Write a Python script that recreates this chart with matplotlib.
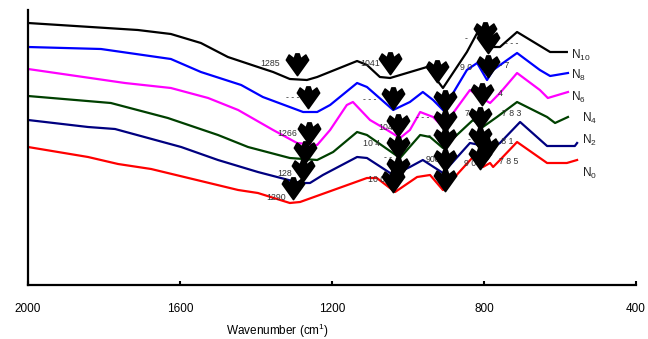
"""FTIR spectra of N0..N10 samples, stacked, with marked bands."""

import matplotlib

matplotlib.use("Agg")
import matplotlib.pyplot as plt
import numpy as np
from matplotlib.path import Path

plt.rcParams["font.family"] = ["Liberation Sans", "DejaVu Sans"]
plt.rcParams["mathtext.fontset"] = "custom"
plt.rcParams["mathtext.rm"] = "Liberation Sans"

# ---------------------------------------------------------------------------
# Data (transmittance in arbitrary offset units)
# ---------------------------------------------------------------------------

wn_n10 = [2000, 1711, 1624, 1545, 1474, 1395, 1355, 1311, 1266, 1239, 1134, 1108,
          1074, 1047, 950, 908, 845, 818, 792, 758, 713, 626, 582]
t_n10 = [262, 255, 251, 242, 228, 218, 213, 206, 205, 208, 224, 220,
         208, 207, 218, 197, 233, 252, 238, 238, 253, 233, 233]

wn_n8 = [2000, 1808, 1624, 1545, 1439, 1382, 1276, 1239, 1205, 1134, 1108, 1039,
         995, 961, 934, 908, 845, 818, 792, 776, 713, 653, 626, 579]
t_n8 = [238, 236, 226, 213, 200, 188, 173, 173, 180, 202, 198, 175,
        183, 193, 185, 175, 215, 222, 205, 215, 232, 215, 209, 212]

wn_n6 = [2000, 1745, 1624, 1526, 1447, 1355, 1292, 1239, 1205, 1161, 1145, 1100,
         1055, 1021, 995, 968, 934, 908, 837, 811, 784, 758, 713, 653, 632, 579]
t_n6 = [216, 202, 197, 187, 175, 155, 142, 140, 155, 180, 183, 165,
        155, 147, 155, 173, 168, 158, 195, 188, 182, 192, 212, 195, 187, 193]

wn_n4 = [2000, 1782, 1632, 1500, 1421, 1311, 1239, 1197, 1134, 1108, 1021, 968,
         942, 908, 829, 803, 766, 713, 634, 613, 579]
t_n4 = [189, 182, 167, 150, 138, 127, 125, 133, 153, 150, 127, 150,
        148, 137, 165, 158, 168, 183, 168, 162, 168]

wn_n2 = [2000, 1842, 1771, 1597, 1500, 1395, 1284, 1258, 1224, 1134, 1108, 1039,
         995, 961, 908, 837, 811, 784, 758, 705, 634, 561, 555]
t_n2 = [165, 158, 156, 138, 125, 113, 102, 102, 110, 128, 127, 110,
        118, 125, 112, 142, 140, 137, 142, 163, 139, 139, 142]

wn_n0 = [2000, 1842, 1763, 1676, 1447, 1395, 1311, 1284, 1108, 1082, 1034, 976,
         942, 908, 829, 803, 784, 776, 758, 713, 634, 582, 555]
t_n0 = [138, 128, 121, 116, 95, 92, 82, 83, 107, 107, 93, 108,
        110, 95, 128, 118, 122, 118, 125, 143, 122, 122, 125]

series = [
    ("N$_{10}$", wn_n10, t_n10, "#000000"),
    ("N$_{8}$", wn_n8, t_n8, "#0000ff"),
    ("N$_{6}$", wn_n6, t_n6, "#ff00ff"),
    ("N$_{4}$", wn_n4, t_n4, "#004000"),
    ("N$_{2}$", wn_n2, t_n2, "#000080"),
    ("N$_{0}$", wn_n0, t_n0, "#ff0000"),
]

# curve name labels on the right
name_wn = [571, 571, 571, 542, 542, 542]
name_t = [230, 210, 188, 167, 145, 112]

# band markers (arrows)
arrow_wn = [1292, 1263, 1261, 1271, 1276, 1303,
            1047, 1039, 1026, 1026, 1026, 1039,
            924, 903, 903, 903, 903, 903,
            797, 789, 789, 805, 811, 811, 792, 811]
arrow_t = [221, 188, 152, 133, 115, 97,
           222, 187, 160, 138, 117, 104,
           214, 184, 164, 146, 125, 105,
           252, 243, 219, 191, 167, 147, 137, 127]

# band labels (mostly hidden under the arrows)
band_text = ["1285", "- - -", "1266", "128", "1290",
             "1041", "- - -", "104", "10 4", "- -", "10 0",
             "9 0", "- - -", "7", "- -", "- -", "908", "9 0",
             "- - -", "-", "- - 7", "4", "7 8 3", "- 8 1", "7 8 5"]
band_wn = [1363, 1303, 1318, 1324, 1347,
           1100, 1100, 1060, 1095, 1053, 1082,
           847, 961, 845, 937, 832, 934, 837,
           726, 847, 753, 758, 726, 745, 734]
band_t = [221, 187, 152, 112, 88,
          222, 185, 157, 142, 128, 105,
          218, 168, 172, 150, 145, 125, 122,
          242, 246, 220, 192, 172, 143, 123]

xticks = [2000, 1600, 1200, 800, 400]


def arrow_marker() -> Path:
    """Bold down arrow with a notched top, like the reference glyph."""
    verts = [(0, -1), (-1, 0.4), (-0.75, 0.85), (-0.3, 0.5), (-0.15, 0.95),
             (0.15, 0.95), (0.3, 0.5), (0.75, 0.85), (1, 0.4), (0, -1)]
    codes = [Path.MOVETO] + [Path.LINETO] * (len(verts) - 2) + [Path.CLOSEPOLY]
    return Path(verts, codes)


fig = plt.figure(figsize=(6.48, 3.39), dpi=100)
ax = fig.add_axes([28 / 648, 54 / 339, 608 / 648, 275 / 339])

for name, wn, t, color in series:
    ax.plot(wn, t, color=color, linewidth=1.6, zorder=2)

for (name, _, _, _), x, y in zip(series, name_wn, name_t):
    ax.text(x, y, name, fontsize=8.5, color="#222222", ha="left", va="center")

for s, x, y in zip(band_text, band_wn, band_t):
    ax.text(x, y, s, fontsize=6.3, color="#333333", ha="center", va="center", zorder=3)

ax.plot(arrow_wn, arrow_t, linestyle="none", marker=arrow_marker(),
        markersize=16, markeredgewidth=1.2, color="black", zorder=4)

ax.set_xlim(2000, 400)
ax.set_ylim(0, 275)
ax.set_xticks(xticks)
ax.set_xticklabels([str(v) for v in xticks], fontsize=8.5)
ax.set_yticks([])
ax.tick_params(axis="x", direction="in", length=3, width=1.5, pad=13)
ax.set_xlabel("Wavenumber (cm$^{1}$)", fontsize=8.5)
ax.xaxis.set_label_coords(249 / 608, -0.135)
for side in ("top", "right"):
    ax.spines[side].set_visible(False)
for side in ("left", "bottom"):
    ax.spines[side].set_linewidth(1.6)

fig.savefig("out.png", dpi=100)
